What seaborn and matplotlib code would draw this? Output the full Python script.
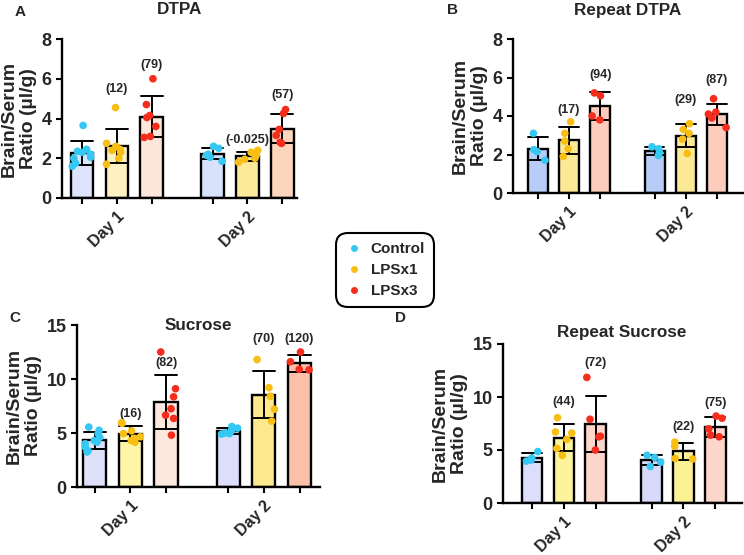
import numpy as np
import pandas as pd
import matplotlib
matplotlib.use("Agg")
import matplotlib.pyplot as plt
import seaborn as sns
from matplotlib.lines import Line2D

days = ["Day 1", "Day 2"]
groups = ["Control", "LPSx1", "LPSx3"]

# Panel A: DTPA
dtpa_d1_control = [3.65, 2.45, 2.35, 2.3, 2.2, 2.05, 2.0, 1.75, 1.6]
dtpa_d1_lps1 = [4.55, 2.75, 2.6, 2.45, 2.4, 2.3, 2.0, 1.7]
dtpa_d1_lps3 = [6.0, 4.7, 4.15, 4.05, 3.6, 3.1, 3.05]
dtpa_d2_control = [2.6, 2.5, 2.2, 2.15, 2.05, 1.85]
dtpa_d2_lps1 = [2.4, 2.3, 2.15, 2.0, 1.95, 1.8]
dtpa_d2_lps3 = [4.45, 4.25, 3.45, 3.15, 2.8, 2.75]
dtpa_labels = ["", "(12)", "(79)", "", "(-0.025)", "(57)"]

# Panel B: Repeat DTPA
rdtpa_d1_control = [3.1, 2.25, 2.15, 1.7]
rdtpa_d1_lps1 = [3.7, 3.1, 2.7, 2.3, 1.9]
rdtpa_d1_lps3 = [5.2, 5.05, 4.0, 3.8]
rdtpa_d2_control = [2.4, 2.3, 2.1, 1.95]
rdtpa_d2_lps1 = [3.6, 3.3, 3.1, 2.8, 2.05]
rdtpa_d2_lps3 = [4.9, 4.2, 4.1, 3.9, 3.4]
rdtpa_labels = ["", "(17)", "(94)", "", "(29)", "(87)"]

# Panel C: Sucrose
suc_d1_control = [5.55, 5.25, 4.95, 4.6, 4.3, 4.15, 4.0, 3.7, 3.35, 3.25]
suc_d1_lps1 = [5.95, 5.9, 5.2, 4.95, 4.65, 4.5, 4.3, 4.15]
suc_d1_lps3 = [12.5, 9.1, 8.35, 7.25, 6.65, 6.35, 4.8]
suc_d2_control = [5.6, 5.45, 5.2, 5.0, 4.95, 4.9]
suc_d2_lps1 = [11.8, 9.2, 8.4, 7.2, 6.1]
suc_d2_lps3 = [12.5, 11.6, 10.9, 10.85]
suc_labels = ["", "(16)", "(82)", "", "(70)", "(120)"]

# Panel D: Repeat Sucrose
rsuc_d1_control = [4.85, 4.25, 4.05, 3.95]
rsuc_d1_lps1 = [8.05, 6.7, 6.6, 6.0, 5.15, 4.5]
rsuc_d1_lps3 = [11.85, 7.9, 6.3, 6.25, 5.0]
rsuc_d2_control = [4.5, 4.3, 3.85, 3.45]
rsuc_d2_lps1 = [5.75, 5.35, 4.2, 4.15]
rsuc_d2_lps3 = [8.2, 8.0, 7.0, 6.4, 6.25]
rsuc_labels = ["", "(44)", "(72)", "", "(22)", "(75)"]

point_colors = ["#35C8F2", "#F8BE14", "#F52D1C"]


def build_df(d1c, d1a, d1b, d2c, d2a, d2b):
    rows = []
    for day, sets in zip(days, [(d1c, d1a, d1b), (d2c, d2a, d2b)]):
        for g, vals in zip(groups, sets):
            for v in vals:
                rows.append({"day": day, "group": g, "value": v})
    return pd.DataFrame(rows)


sns.set_theme(style="ticks")
plt.rcParams["font.family"] = ["Liberation Sans", "DejaVu Sans"]
plt.rcParams["font.weight"] = "bold"
plt.rcParams["axes.labelweight"] = "bold"

fig = plt.figure(figsize=(7.44, 5.55), dpi=100)
W, H = 744.0, 555.0


def axes_px(x0, x1, ytop, ybot):
    return fig.add_axes([x0 / W, 1 - ybot / H, (x1 - x0) / W, (ybot - ytop) / H])


panels = [
    dict(df=build_df(dtpa_d1_control, dtpa_d1_lps1, dtpa_d1_lps3,
                     dtpa_d2_control, dtpa_d2_lps1, dtpa_d2_lps3),
         box=(62, 297, 39, 198), xlim=(-0.42, 1.38), ymax=8, yticks=[0, 2, 4, 6, 8],
         fills=["#DCE3FA", "#FDF1C2", "#FDE6DA", "#D9E2FC", "#FCE99A", "#FDD5BC"],
         labels=dtpa_labels, label_y=[0, 5.47, 6.7, 0, 2.92, 5.2]),
    dict(df=build_df(rdtpa_d1_control, rdtpa_d1_lps1, rdtpa_d1_lps3,
                     rdtpa_d2_control, rdtpa_d2_lps1, rdtpa_d2_lps3),
         box=(513, 743, 39, 193), xlim=(-0.48, 1.49), ymax=8, yticks=[0, 2, 4, 6, 8],
         fills=["#B8CCF8", "#FBE995", "#FCCDBD", "#B8CCF8", "#FBE995", "#FCCDBD"],
         labels=rdtpa_labels, label_y=[0, 4.31, 6.14, 0, 4.83, 5.88]),
    dict(df=build_df(suc_d1_control, suc_d1_lps1, suc_d1_lps3,
                     suc_d2_control, suc_d2_lps1, suc_d2_lps3),
         box=(77, 320, 325, 487), xlim=(-0.40, 1.42), ymax=15, yticks=[0, 5, 10, 15],
         fills=["#DFE0FA", "#FEF5A6", "#FDE8DF", "#DDDEFC", "#FCE98E", "#FCBFA8"],
         labels=suc_labels, label_y=[0, 6.8, 11.44, 0, 13.67, 13.67]),
    dict(df=build_df(rsuc_d1_control, rsuc_d1_lps1, rsuc_d1_lps3,
                     rsuc_d2_control, rsuc_d2_lps1, rsuc_d2_lps3),
         box=(503, 742, 344, 503), xlim=(-0.51, 1.49), ymax=15, yticks=[0, 5, 10, 15],
         fills=["#DCDFFC", "#FCF39A", "#FDD6CB", "#D8DAFC", "#FCF294", "#FDD6CB"],
         labels=rsuc_labels, label_y=[0, 9.55, 13.24, 0, 7.19, 9.45]),
]

np.random.seed(3)
for p in panels:
    x0, x1, yt, yb = p["box"]
    ax = axes_px(x0, x1, yt, yb)
    sns.barplot(data=p["df"], x="day", y="value", hue="group", order=days,
                hue_order=groups, errorbar="sd", capsize=0.5, gap=0.35, width=0.8,
                err_kws={"color": "black", "linewidth": 1.4},
                edgecolor="black", linewidth=1.7, palette=p["fills"][:3],
                legend=False, ax=ax)
    bars = sorted(ax.patches, key=lambda r: r.get_x())
    centers = []
    for r, c in zip(bars, p["fills"]):
        r.set_facecolor(c)
        centers.append(r.get_x() + r.get_width() / 2)
    sns.stripplot(data=p["df"], x="day", y="value", hue="group", order=days,
                  hue_order=groups, dodge=True, jitter=0.25, size=5.5,
                  palette=point_colors, linewidth=0, legend=False, ax=ax, zorder=5)
    ax.set_xlim(*p["xlim"])
    ax.set_ylim(0, p["ymax"])
    ax.set_yticks(p["yticks"])
    ax.set_yticklabels([str(t) for t in p["yticks"]], fontsize=13, fontweight="bold")
    ax.set_xticks([0, 1])
    ax.set_xticklabels(days, rotation=45, ha="right", rotation_mode="anchor",
                       fontsize=11.5, fontweight="bold")
    ax.set_xticks(centers, minor=True)
    ax.tick_params(axis="both", which="both", direction="out", length=4, width=1.5,
                   color="black")
    ax.tick_params(axis="x", which="major", pad=4)
    ax.set_xlabel("")
    ax.set_ylabel("Brain/Serum\nRatio (µl/g)", fontsize=14, fontweight="bold",
                  linespacing=1.2, labelpad=3)
    for s in ["top", "right"]:
        ax.spines[s].set_visible(False)
    for s in ["left", "bottom"]:
        ax.spines[s].set_linewidth(1.7)
        ax.spines[s].set_color("black")
    for xc, lab, ly in zip(centers, p["labels"], p["label_y"]):
        if lab:
            ax.text(xc, ly, lab, ha="center", va="center", fontsize=9,
                    fontweight="bold")

# Panel titles and letters
tkw = dict(ha="center", va="center", fontsize=12.3, fontweight="bold")
fig.text(180 / W, 1 - 9 / H, "DTPA", **tkw)
fig.text(628 / W, 1 - 10 / H, "Repeat DTPA", **tkw)
fig.text(198 / W, 1 - 326 / H, "Sucrose", **tkw)
fig.text(622 / W, 1 - 332 / H, "Repeat Sucrose", **tkw)
lkw = dict(ha="center", va="center", fontsize=11, fontweight="bold")
fig.text(20 / W, 1 - 12 / H, "A", **lkw)
fig.text(453 / W, 1 - 10 / H, "B", **lkw)
fig.text(15 / W, 1 - 318 / H, "C", **lkw)
fig.text(400 / W, 1 - 318 / H, "D", **lkw)

handles = [Line2D([], [], marker="o", ls="", color=c, markersize=4) for c in point_colors]
leg = fig.legend(handles, groups, loc="center", bbox_to_anchor=(385 / W, 1 - 270 / H),
                 frameon=True, fancybox=True, edgecolor="black",
                 prop={"weight": "bold", "size": 11}, handletextpad=0.5,
                 labelspacing=0.45, borderpad=0.6, handlelength=1.2, framealpha=1)
leg.get_frame().set_linewidth(1.5)
leg.get_frame().set_boxstyle("round,pad=0,rounding_size=0.8")

fig.savefig("out.png", dpi=100)
